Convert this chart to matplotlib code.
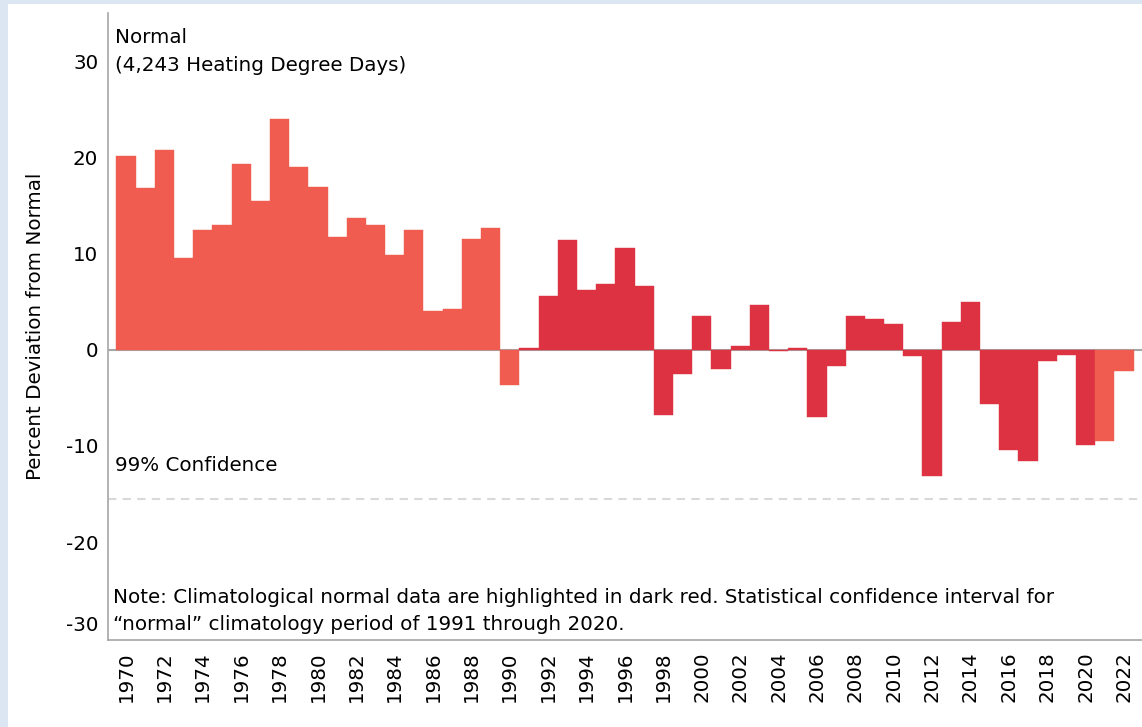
import matplotlib
matplotlib.use("Agg")
import matplotlib.pyplot as plt
import matplotlib.transforms as mtransforms
from matplotlib.patches import Rectangle

years = list(range(1970, 2023))
deviation = [
    20.2, 16.8, 20.8, 9.6, 12.5, 12.95, 19.3, 15.45, 24.0, 19.0,
    17.0, 11.7, 13.75, 12.95, 9.9, 12.5, 4.0, 4.3, 11.5, 12.7,
    -3.7, 0.17, 5.56, 11.4, 6.2, 6.84, 10.6, 6.6, -6.8, -2.5,
    3.5, -2.0, 0.38, 4.7, -0.07, 0.17, -7.0, -1.67, 3.5, 3.2,
    2.74, -0.6, -13.1, 2.95, 5.0, -5.66, -10.4, -11.6, -1.15, -0.5,
    -9.9, -9.45, -2.2,
]
normal_start, normal_end = 1991, 2020
confidence_level = -15.5
ytick_values = [30, 20, 10, 0, -10, -20, -30]
xtick_years = list(range(1970, 2023, 2))

light_red = "#f05c50"
dark_red = "#dc3242"
colors = [dark_red if normal_start <= y <= normal_end else light_red for y in years]

plt.rcParams["font.family"] = ["DejaVu Sans"]
FS = 14.3

fig = plt.figure(figsize=(11.42, 7.27), dpi=100)
fig.patch.set_facecolor("white")
# light blue frame strips (left and top)
fig.patches.append(Rectangle((0, 0), 8 / 1142, 1, transform=fig.transFigure,
                             facecolor="#dce6f2", edgecolor="none", zorder=0))
fig.patches.append(Rectangle((0, 1 - 4 / 727), 1, 4 / 727, transform=fig.transFigure,
                             facecolor="#dce6f2", edgecolor="none", zorder=0))

ax = fig.add_axes([108 / 1142, 1 - 640 / 727, 1 - 108 / 1142, (640 - 12.7) / 727])
ax.set_facecolor("white")

ax.bar(years, deviation, width=1.0, color=colors, edgecolor=colors,
       linewidth=0.3, zorder=2)
ax.axhline(0, color="#a6a6a6", lw=1.5, zorder=1)
ax.axhline(confidence_level, color="#d9d9d9", lw=1.5, ls=(0, (4, 3)), zorder=1)

ax.set_xlim(1969.06, 2022.94)
ax.set_ylim(-30.2, 35.1)

for s in ["top", "right"]:
    ax.spines[s].set_visible(False)
for s in ["left", "bottom"]:
    ax.spines[s].set_color("#a6a6a6")
    ax.spines[s].set_linewidth(1.2)

ax.set_yticks(ytick_values)
ax.set_yticklabels([str(v) for v in ytick_values], fontsize=FS)
ax.tick_params(axis="y", length=0, pad=7)
# -30 label sits slightly above its tick in the reference
for lbl in ax.get_yticklabels():
    if lbl.get_text() == "-30":
        lbl.set_transform(lbl.get_transform() +
                          mtransforms.ScaledTranslation(0, 0.15, fig.dpi_scale_trans))

ax.set_xticks(xtick_years)
ax.set_xticklabels([str(y) for y in xtick_years], rotation=90, fontsize=FS)
ax.tick_params(axis="x", length=0, pad=8)

ax.set_ylabel("Percent Deviation from Normal", fontsize=FS, labelpad=10)
ax.yaxis.set_label_coords(-0.061, 0.5)

ax.text(1969.4, 29.06, "Normal\n(4,243 Heating Degree Days)", fontsize=FS,
        ha="left", va="baseline", linespacing=1.55)
ax.text(1969.4, -12.65, "99% Confidence", fontsize=FS, ha="left", va="baseline")
ax.text(1969.3, -29.2,
        "Note: Climatological normal data are highlighted in dark red. Statistical confidence interval for\n"
        "\u201cnormal\u201d climatology period of 1991 through 2020.",
        fontsize=FS, ha="left", va="baseline", linespacing=1.55)

fig.savefig("out.png", dpi=100, facecolor="white")
